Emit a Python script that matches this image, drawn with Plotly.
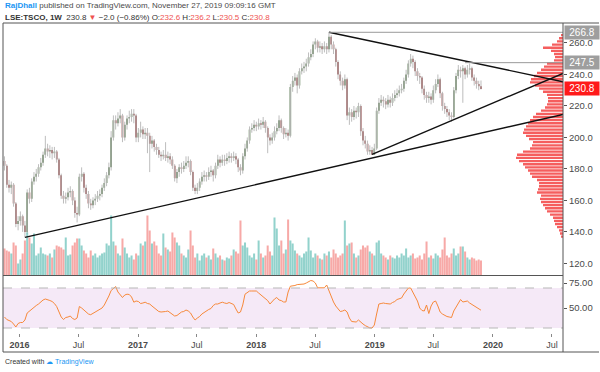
import plotly.graph_objects as go
import pandas as pd

# ---------------- data (weekly, LSE:TSCO) ----------------
opens = [185,182,170,168,170,158,145,147,150,144,
         140,165,161,172,175,177,181,184,189,193,
         191,192,190,191,186,176,163,161,162,165,
         166,160,152,151,175,177,168,164,158,157,
         160,161,163,164,168,171,176,181,200,211,
         209,212,214,200,208,212,213,215,214,200,
         203,205,202,203,201,196,198,194,192,189,
         188,189,187,188,186,182,174,178,181,180,
         182,184,185,178,168,166,168,172,175,176,
         175,178,179,176,182,186,184,186,185,187,
         188,187,188,186,181,179,188,193,198,205,
         206,208,207,209,208,210,206,200,198,200,
         204,206,211,206,202,203,201,232,236,238,
         233,242,244,245,247,251,253,259,261,257,
         258,256,258,256,264,259,256,248,240,236,
         233,237,214,216,213,217,216,220,204,198,
         196,191,192,189,193,217,222,224,223,221,
         224,222,225,227,228,230,231,236,240,247,
         250,248,242,239,238,231,227,225,226,224,
         230,234,237,228,220,218,216,214,213,230,
         239,243,242,244,240,243,244,238,236,234,232.6]
closes = [182,170,168,170,158,145,147,150,144,140,
          165,161,172,175,177,181,184,189,193,191,
          192,190,191,186,176,163,161,162,165,166,
          160,152,151,175,177,168,164,158,157,160,
          161,163,164,168,171,176,181,200,211,209,
          212,214,200,208,212,213,215,214,200,203,
          205,202,203,201,196,198,194,192,189,188,
          189,187,188,186,182,174,178,181,180,182,
          184,185,178,168,166,168,172,175,176,175,
          178,179,176,182,186,184,186,185,187,188,
          187,188,186,181,179,188,193,198,205,206,
          208,207,209,208,210,206,200,198,200,204,
          206,211,206,202,203,201,232,236,238,233,
          242,244,245,247,251,253,259,261,257,258,
          256,258,256,264,259,256,248,240,236,233,
          237,214,216,213,217,216,220,204,198,196,
          191,192,189,193,217,222,224,223,221,224,
          222,225,227,228,230,231,236,240,247,250,
          248,242,239,238,231,227,225,226,224,230,
          234,237,228,220,218,216,214,213,230,239,
          243,242,244,240,243,244,238,236,234,232.6,230.8]
highs = [188,183,173,172,171,159,150,153,151,147,
         167,168,174,178,180,183,187,191,201,196,
         195,194,194,192,187,177,166,165,168,169,
         167,162,156,177,181,178,170,166,161,162,
         164,166,167,170,174,178,184,204,214,214,
         216,218,215,210,214,217,218,218,215,206,
         210,207,206,206,203,201,199,196,194,191,
         192,197,191,190,188,183,180,183,184,185,
         188,188,186,179,170,171,174,178,179,178,
         181,182,180,184,189,188,189,189,190,191,
         190,191,190,187,183,190,196,200,207,209,
         211,210,212,211,213,211,207,202,203,207,
         209,214,212,207,206,205,234,239,241,240,
         244,247,248,250,254,256,261,263,262,261,
         260,261,260,266.8,265,261,257,249,242,238,
         240,238,219,218,220,219,222,221,206,201,
         198,195,194,196,219,225,227,226,225,227,
         226,228,230,231,233,234,238,243,249,253,
         252,249,244,241,239,233,229,229,228,233,
         237,240,238,229,222,220,218,216,232,241,
         246,245,246,245,246,247,245,240,238,236,236.2]
lows = [179,168,165,164,156,143,141,144,140,136.5,
        139,158,159,170,172,175,179,182,187,188,
        187,186,187,184,174,161,158,158,160,162,
        157,149,146,150,172,165,161,155,154,155,
        157,159,160,162,166,169,174,179,198,205,
        207,209,197,198,205,209,210,209,197,197,
        200,199,199,190,178,193,191,189,187,185,
        186,185,184,183,180,172,171,175,177,178,
        180,181,176,166,164,164,166,170,172,172,
        173,175,172,174,180,181,182,182,183,184,
        184,185,183,178,176,177,186,191,196,203,
        204,204,205,205,206,203,190,195,196,198,
        202,204,203,199,200,198,200,229,233,228,
        231,240,241,242,245,249,251,256,254,254,
        253,254,253,254,256,253,245,237,233,230,
        231,211,208,210,211,212,213,201,195,193,
        189,189,188.9,189,192,215,220,219,218,219,
        219,220,223,225,226,228,229,234,238,245,
        244,239,236,234,228,224,222,222,221,222,
        228,232,225,217,215,213,211,210,212,228,
        237,238,222,237,238,240,236,233,231,230,230.5]
# weekly volume (millions of shares, approx.)
volume = [108,100,96,88,132,120,48,64,88,140,
          172,152,128,168,80,88,112,88,84,80,
          88,72,104,120,116,112,104,152,80,84,
          120,132,148,148,120,100,88,72,100,80,
          88,72,80,88,92,128,120,240,136,120,
          88,80,148,112,88,72,80,64,88,80,
          128,120,136,240,180,128,136,120,88,80,
          168,112,104,96,172,152,132,120,88,80,
          72,104,180,120,72,88,60,80,88,72,
          80,64,108,88,72,80,64,60,72,68,
          80,104,96,88,220,120,132,112,80,72,
          88,64,140,88,72,80,120,96,80,232,
          188,120,140,88,104,224,140,128,100,88,
          80,72,88,96,152,100,72,88,80,68,
          64,88,80,96,72,104,88,72,80,88,
          220,120,128,132,88,72,80,104,120,112,
          120,96,88,80,132,140,88,80,72,64,
          80,72,68,80,72,88,80,108,72,80,
          88,68,72,80,64,88,136,72,80,68,
          88,80,72,104,152,80,72,88,108,80,
          88,116,116,96,72,64,72,68,60,64,60]
# RSI(14)
rsi = [41,38.5,37.5,36.5,34,31,34.5,35.5,35.5,38,
       45,47,48.5,51,52.5,54,56.5,58,59,58.5,
       57.5,56.5,54.5,51.5,46.5,41,38.5,40.5,41,42,
       39.5,38.5,40,51.5,50,47.8,45.5,44,43.3,44.5,
       46,47,48,50,53,57,62,67.5,70,71.5,
       66,63,60.5,63,63.8,63.5,61,55.8,57,56.5,
       54.5,55,55.8,54.5,54,52,50,47.8,46.5,46,
       46,46.5,47,45.5,44,42,42.5,44,46,46.5,
       48,47,45,41,38,40,41.5,44,45.5,47.8,
       48.5,49.5,52.5,54,54,55,55.8,55,54.5,55.5,
       54.5,53.5,49,45,46,53,63.8,65.5,67,67,
       67,67,65,63,61,59,57.4,54,57,59,
       60.5,58,57.4,56,56,66,71.8,71.8,72.5,73.4,
       73.4,73.4,74,75,76,77.5,77,75,70.2,70.2,
       70.2,70.2,73,67,61,56,52,49.5,46.5,47,
       48,46,40,36.5,36.5,36,38,35.5,34,32.4,
       31.2,30.1,30,33,44,54,54.5,55,54.5,54,
       54,55.5,56.5,58.5,59,60,64,67,70,70,
       66,61,57,50,47.5,47,53,44.5,52,56,
       57,52,46,44,42.5,41.5,41,40.5,47,51,
       56,58.5,56,56.5,57,55,53.5,52.5,50.5,49,47.8]
# volume-profile rows (price level, relative volume)
vp_price = [137,139,141,143,145,147,149,151,153,155,157,159,161,163,165,167,169,171,173,175,
            177,179,181,183,185,187,189,191,193,195,197,199,201,203,205,207,209,211,213,215,
            217,219,221,223,225,227,229,231,233,235,237,239,241,243,245,247,249,251,253,255,
            257,259,261,263,265]
vp_vol = [2,3,4,6,8,9,10,13,16,18,20,22,23,22,26,25,24,24,26,31,
          33,35,38,40,44,47,46,40,33,31,30,34,37,40,39,37,35,33,30,27,
          22,18,16,15,15,16,20,24,28,33,32,29,26,22,19,16,9,8,9,12,
          20,11,6,4,2]
# drawn trendlines: (date, price) anchors
tl_lower = [("2016-01-18", 136.5), ("2020-08-04", 214.6)]
tl_mid = [("2018-12-24", 189.3), ("2020-08-04", 240.7)]
tl_upper = [("2018-08-13", 266.8), ("2020-08-04", 235.4)]
hlines = [("2018-08-13", 266.8), ("2019-10-07", 247.5)]
x_ticks = ["2016-01-01", "2016-07-01", "2017-01-01", "2017-07-01", "2018-01-01",
           "2018-07-01", "2019-01-01", "2019-07-01", "2020-01-01", "2020-07-01"]
x_ticktext = ["<b>2016</b>", "Jul", "<b>2017</b>", "Jul", "<b>2018</b>", "Jul",
              "<b>2019</b>", "Jul", "<b>2020</b>", "Jul"]
price_ticks = [120, 140, 160, 180, 200, 220, 240, 260]

dates = pd.date_range("2015-11-16", periods=len(closes), freq="7D")

# ---------------- figure ----------------
W, H = 600, 372
L, R, T, B = 3, 37, 23, 39
PW, PH = W - L - R, H - T - B
DAY = 86400000


def px(x):
    return (x - L) / PW


def py(y):
    return (H - B - y) / PH


UP_BODY, DN_BODY = "#3b6130", "#7d1c1c"
WICK = "#bdbdbd"
FONT = "Liberation Sans"

fig = go.Figure()

vol_colors = ["rgba(38,166,154,0.5)" if c >= o else "rgba(239,83,80,0.5)" for o, c in zip(opens, closes)]
fig.add_trace(go.Bar(x=dates, y=volume, marker=dict(color=vol_colors, line=dict(width=0)),
                     width=6.2 * DAY, xaxis="x", yaxis="y3", hoverinfo="skip"))

fig.add_trace(go.Bar(y=vp_price, x=vp_vol, orientation="h", width=1.5,
                     marker=dict(color="rgba(242,54,54,0.8)", line=dict(width=0)),
                     xaxis="x3", yaxis="y", hoverinfo="skip"))

wx, wy = [], []
for d, h, l in zip(dates, highs, lows):
    wx += [d, d, None]
    wy += [l, h, None]
fig.add_trace(go.Scatter(x=wx, y=wy, mode="lines", line=dict(color=WICK, width=1),
                         xaxis="x", yaxis="y", hoverinfo="skip"))

b_lo = [min(o, c) for o, c in zip(opens, closes)]
b_h = [max(abs(c - o), 0.5) for o, c in zip(opens, closes)]
b_col = [UP_BODY if c >= o else DN_BODY for o, c in zip(opens, closes)]
fig.add_trace(go.Bar(x=dates, base=b_lo, y=b_h, width=4.6 * DAY,
                     marker=dict(color=b_col, line=dict(width=0)),
                     xaxis="x", yaxis="y", hoverinfo="skip"))

fig.add_trace(go.Scatter(x=dates[:len(rsi)], y=rsi, mode="lines",
                         line=dict(color="#f7893b", width=1), xaxis="x", yaxis="y2", hoverinfo="skip"))

shapes = []
shapes.append(dict(type="rect", xref="paper", yref="y2", x0=0, x1=1, y0=30, y1=70,
                   fillcolor="rgba(156,39,176,0.1)", line=dict(width=0), layer="below"))
for lvl in (30, 70):
    shapes.append(dict(type="line", xref="paper", yref="y2", x0=0, x1=1, y0=lvl, y1=lvl,
                       line=dict(color="#b7b7b7", width=1, dash="dash")))
for tl in (tl_lower, tl_mid, tl_upper):
    shapes.append(dict(type="line", xref="x", yref="y", x0=tl[0][0], y0=tl[0][1],
                       x1=tl[1][0], y1=tl[1][1], line=dict(color="#111111", width=1.4)))
for d, p in hlines:
    shapes.append(dict(type="line", xref="x", yref="y", x0=d, y0=p, x1="2020-08-04", y1=p,
                       line=dict(color="#9a9a9a", width=1)))
FR = "#555555"
frame = [
    (px(3), py(23), px(599), py(23)),
    (px(3), py(23), px(3), py(352)),
    (px(3), py(352), px(599), py(352)),
    (px(563), py(23), px(563), py(352)),
    (px(3), py(275.5), px(563), py(275.5)),
]
for x0, y0, x1, y1 in frame:
    shapes.append(dict(type="line", xref="paper", yref="paper", x0=x0, y0=y0, x1=x1, y1=y1,
                       line=dict(color=FR, width=1)))

RED = "#ef5350"
annotations = [
    dict(xref="paper", yref="paper", x=px(3), y=py(6), xanchor="left", yanchor="middle",
         text="<b><span style='color:#2196f3'>RajDhall</span></b> published on TradingView.com, November 27, 2019 09:09:16 GMT",
         showarrow=False, font=dict(family=FONT, size=8, color="#4a4a4a")),
    dict(xref="paper", yref="paper", x=px(3), y=py(17), xanchor="left", yanchor="middle",
         text=("<b>LSE:TSCO, 1W</b>  230.8 <span style='color:%s'>▼</span> −2.0 (−0.86%%) "
               "O:<span style='color:%s'>232.6</span> H:<span style='color:%s'>236.2</span> "
               "L:<span style='color:%s'>230.5</span> C:<span style='color:%s'>230.8</span>") % (RED, RED, RED, RED, RED),
         showarrow=False, font=dict(family=FONT, size=8, color="#333333")),
    dict(xref="paper", yref="paper", x=px(3), y=py(362), xanchor="left", yanchor="middle",
         text="Created with <span style='color:#2196f3'>☁ TradingView</span>",
         showarrow=False, font=dict(family=FONT, size=7, color="#333333")),
]
for val, bg in ((266.8, "#9e9e9e"), (247.5, "#9e9e9e"), (230.8, "#ff1a1a")):
    annotations.append(dict(xref="paper", yref="y", x=1, y=val, xanchor="left", yanchor="middle",
                            xshift=1, text="%.1f" % val, showarrow=False, bgcolor=bg,
                            width=32, align="center", borderpad=1,
                            font=dict(family=FONT, size=10, color="white")))

fig.update_layout(
    template="none",
    width=W, height=H, margin=dict(l=L, r=R, t=T, b=B, autoexpand=False),
    paper_bgcolor="white", plot_bgcolor="white", showlegend=False, barmode="overlay",
    hovermode=False,
    xaxis=dict(type="date", range=["2015-11-11 10:00", "2020-08-04"], anchor="y2",
               tickvals=x_ticks, ticktext=x_ticktext, ticks="outside", ticklen=3,
               tickcolor="#888888", showgrid=False, zeroline=False, showline=False,
               automargin=False, tickfont=dict(family=FONT, size=9, color="#4a4a4a")),
    xaxis3=dict(overlaying="x", range=[560, 0], visible=False, anchor="y", automargin=False),
    yaxis=dict(domain=[py(275.5), 1], range=[112.3, 272.7], side="right", anchor="x",
               tickvals=price_ticks, ticktext=["%.1f" % v for v in price_ticks],
               ticks="outside", ticklen=3, tickcolor="#555555", showgrid=False, zeroline=False,
               showline=False, automargin=False,
               tickfont=dict(family=FONT, size=9.5, color="#4a4a4a")),
    yaxis2=dict(domain=[0, py(276)], range=[25, 82], side="right", anchor="x",
                tickvals=[50, 75], ticktext=["50.00", "75.00"], ticks="outside", ticklen=3,
                tickcolor="#555555", showgrid=False, zeroline=False, showline=False,
                automargin=False, tickfont=dict(family=FONT, size=9.5, color="#4a4a4a")),
    yaxis3=dict(overlaying="y", range=[0, 1008], visible=False, automargin=False),
    shapes=shapes, annotations=annotations,
)

fig.write_html("out.html", config={"displayModeBar": False, "staticPlot": True},
               post_script="document.body.style.margin='0';document.body.style.padding='0';")
